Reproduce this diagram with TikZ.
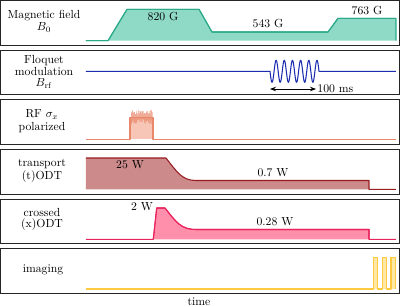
\documentclass[tikz,border=0pt]{standalone}
\usepackage{amsmath}
\usetikzlibrary{arrows.meta,positioning,calc}
\definecolor{bline}{HTML}{2BAA8A}
\definecolor{bfill}{HTML}{8FDAC6}
\definecolor{rfline}{HTML}{1C2DB0}
\definecolor{sxline}{HTML}{E8876A}
\definecolor{sxfill}{HTML}{F7C6B6}
\definecolor{tline}{HTML}{981C20}
\definecolor{tfill}{HTML}{CC8A8A}
\definecolor{xline}{HTML}{E8245C}
\definecolor{xfill}{HTML}{FF8FAB}
\definecolor{imline}{HTML}{FFC940}
\definecolor{imfill}{HTML}{FFE7A6}
\tikzset{
  >={Stealth[length=1.8mm]},
  panel/.style={draw=black!85,line width=0.8pt},
  chlbl/.style={align=center,inner sep=1pt},
  vallbl/.style={inner sep=1pt},
  sig/.style={line width=0.9pt,line join=round},
}

\begin{document}
\begin{tikzpicture}[x=0.3mm,y=-0.3mm]
  \useasboundingbox (0,0) rectangle (401,307);
  % boxes round each channel
  \foreach \i in {0,...,5}
    \draw[panel] (0.8,{0.7+49.6*\i}) rectangle (399.3,{45.2+49.6*\i});

  % channel names
  \node[chlbl] (nB)  at (44,21.5)  {Magnetic field\\[-2pt] $B_0$};
  \node[chlbl] (nF)  at (44,72)    {Floquet\\[-2pt] modulation\\[-2pt] $B_{\mathrm{rf}}$};
  \node[chlbl] (nRF) at (42,121.5) {RF $\sigma_x$\\[-1pt] polarized};
  \node[chlbl] (nT)  at (42,170.5) {transport\\[-1pt] (t)ODT};
  \node[chlbl] (nX)  at (42,219.5) {crossed\\[-2pt] (x)ODT};
  \node[chlbl] (nI)  at (43,270)   {imaging};
  \node[inner sep=0pt] (ntime) at (199,301.5) {time};

  % magnetic field
  \draw[sig,draw=bline,fill=bfill] (86,40.7) -- (108,40.7) -- (127,9.3) -- (199,9.3)
    -- (212,32) -- (328,32) -- (338,18.3) -- (396,18.3) -- (396,40.7);
  \draw[sig,draw=bline] (86,40.7) -- (108,40.7) -- (127,9.3) -- (199,9.3)
    -- (212,32) -- (328,32) -- (338,18.3) -- (396,18.3);
  \node[vallbl] (v820) at (163,16.5) {820 G};
  \node[vallbl] (v543) at (268,23.5) {543 G};
  \node[vallbl] (v763) at (367,10.5) {763 G};

  % floquet modulation
  \draw[sig,draw=rfline] (86,71.3) -- (270,71.3)
    -- plot[domain=0:49,samples=240] ({270+\x},{71.3+11*sin(44.082*\x)})
    -- (396,71.3);
  \coordinate (a1) at (270,89);
  \coordinate (a2) at (316,89);
  \draw[<->,line width=0.8pt] (a1) -- (a2);
  \node[vallbl,right=0pt of a2] (v100) {100 ms};

  % rf pulse
  \fill[sxfill] (130,139.3) rectangle (153,117.3);
  \pgfmathsetseed{11}
  \foreach \x in {131,131.5,...,152}{
    \pgfmathsetmacro{\up}{110+5*rnd}
    \pgfmathsetmacro{\dn}{119+6*rnd}
    \draw[sxline,opacity=0.45,line width=0.5pt] (\x,\up) -- (\x,\dn);
  }
  \draw[sig,draw=sxline] (86,139.3) -- (130,139.3) -- (130,117.3) -- (153,117.3)
    -- (153,139.3) -- (396,139.3);

  % transport odt
  \fill[tfill] (86,189.3) -- (86,158) -- (166,158)
    .. controls (177,172) and (182,180.5) .. (196,180.5)
    -- (369,180.5) -- (369,189.3) -- cycle;
  \draw[sig,draw=tline] (86,158) -- (166,158)
    .. controls (177,172) and (182,180.5) .. (196,180.5)
    -- (369,180.5) -- (369,189.3) -- (396,189.3);
  \node[vallbl] (v25) at (130,165) {25 W};
  \node[vallbl] (v07) at (273,173) {0.7 W};

  % crossed odt
  \draw[sig,draw=xline,fill=xfill] (153.3,239.3) -- (156.7,208) -- (165,208)
    .. controls (176,222) and (181,229.5) .. (196,229.5)
    -- (369,229.5) -- (369,239.3);
  \draw[sig,draw=xline] (86,239.3) -- (153.3,239.3) -- (156.7,208) -- (165,208)
    .. controls (176,222) and (181,229.5) .. (196,229.5)
    -- (369,229.5) -- (369,239.3) -- (396,239.3);
  \node[vallbl] (v2) at (142,207) {2 W};
  \node[vallbl] (v028) at (275,222) {0.28 W};

  % imaging pulses
  \foreach \x in {373.3,382.3,391}
    \fill[imfill] (\x,289) rectangle ++(4.4,-31.7);
  \draw[sig,draw=imline] (86,289) -- (373.3,289)
    -- ++(0,-31.7) -- ++(4.4,0) -- ++(0,31.7) -- (382.3,289)
    -- ++(0,-31.7) -- ++(4.4,0) -- ++(0,31.7) -- (391,289)
    -- ++(0,-31.7) -- ++(4.4,0) -- ++(0,31.7);
\end{tikzpicture}
\end{document}
